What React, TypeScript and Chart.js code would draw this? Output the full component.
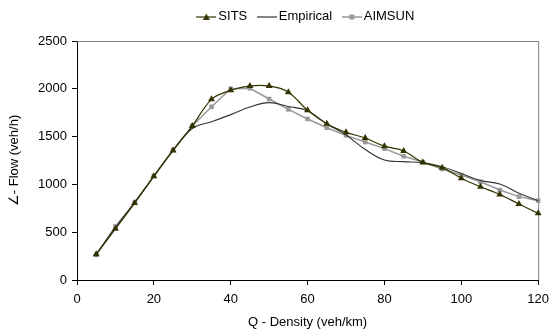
import React, { useEffect, useRef } from "react";
import { Chart, registerables } from "chart.js";

Chart.register(...registerables);

const densities = [5, 10, 15, 20, 25, 30, 35, 40, 45, 50, 55, 60, 65, 70, 75, 80, 85, 90, 95, 100, 105, 110, 115, 120];
const sitsFlow = [270, 535, 805, 1085, 1355, 1610, 1890, 1985, 2030, 2030, 1965, 1775, 1635, 1545, 1485, 1400, 1350, 1230, 1175, 1065, 975, 895, 795, 697];
const empiricalFlow = [270, 550, 810, 1085, 1355, 1585, 1655, 1730, 1810, 1855, 1815, 1770, 1632, 1517, 1365, 1255, 1238, 1227, 1185, 1115, 1040, 1004, 907, 830];
const aimsunFlow = [262, 560, 810, 1088, 1360, 1611, 1812, 2000, 2005, 1893, 1785, 1684, 1593, 1513, 1443, 1374, 1294, 1234, 1161, 1098, 1028, 941, 872, 830];

const xTickValues = [0, 20, 40, 60, 80, 100, 120];
const yTickValues = [0, 500, 1000, 1500, 2000, 2500];

const seriesNames = ["SITS", "Empirical", "AIMSUN"];
const xTitle = "Q - Density (veh/km)";
const yTitle = "\u2220- Flow (veh/h)";

const FONT = "'Liberation Sans', Arial, sans-serif";
const FS = 13;
const SITS_COLOR = "#333300";
const EMP_COLOR = "#333333";
const AIM_COLOR = "#999999";

function makeIcon(color: string, marker: "triangle" | "square" | "none", markerColor: string, lw: number) {
  const c = document.createElement("canvas");
  c.width = 20;
  c.height = 9;
  const ctx = c.getContext("2d")!;
  ctx.strokeStyle = color;
  ctx.lineWidth = lw;
  ctx.beginPath();
  ctx.moveTo(0, 5);
  ctx.lineTo(20, 5);
  ctx.stroke();
  ctx.fillStyle = markerColor;
  if (marker === "triangle") {
    ctx.beginPath();
    ctx.moveTo(10, 1.5);
    ctx.lineTo(13.5, 8);
    ctx.lineTo(6.5, 8);
    ctx.closePath();
    ctx.fill();
  } else if (marker === "square") {
    ctx.fillRect(7.5, 2.5, 5, 5);
  }
  return c;
}

export default function App() {
  const ref = useRef<HTMLCanvasElement | null>(null);

  useEffect(() => {
    if (!ref.current) return;
    const icons = [
      makeIcon(SITS_COLOR, "triangle", SITS_COLOR, 1.2),
      makeIcon(EMP_COLOR, "none", EMP_COLOR, 1.2),
      makeIcon(AIM_COLOR, "square", AIM_COLOR, 1.5),
    ];

    const borderPlugin = {
      id: "plotBorder",
      beforeDatasetsDraw(chart: any) {
        const { left, top, right, bottom } = chart.chartArea;
        const ctx = chart.ctx;
        ctx.save();
        ctx.strokeStyle = "#808080";
        ctx.lineWidth = 1;
        ctx.beginPath();
        ctx.moveTo(left, top + 0.5);
        ctx.lineTo(right + 0.5, top + 0.5);
        ctx.lineTo(right + 0.5, bottom);
        ctx.stroke();
        ctx.restore();
      },
    };

    const legendHeightPlugin = {
      id: "legendHeight",
      beforeInit(chart: any) {
        const origFit = chart.legend.fit;
        chart.legend.fit = function () {
          origFit.bind(chart.legend)();
          this.height = 45;
        };
      },
      afterLayout(chart: any) {
        if (chart.legend && chart.chartArea) {
          chart.legend.left = chart.chartArea.left;
          chart.legend.right = chart.chartArea.right;
        }
      },
    };

    const toPts = (arr: number[]) => densities.map((x, i) => ({ x, y: arr[i] }));

    const chart = new Chart(ref.current, {
      type: "line",
      data: {
        datasets: [
          {
            label: seriesNames[0],
            data: toPts(sitsFlow),
            borderColor: SITS_COLOR,
            backgroundColor: SITS_COLOR,
            borderWidth: 1.2,
            pointStyle: "triangle",
            pointRadius: 4,
            pointBorderWidth: 0,
            tension: 0.35,
            clip: false,
          },
          {
            label: seriesNames[1],
            data: toPts(empiricalFlow),
            borderColor: EMP_COLOR,
            backgroundColor: EMP_COLOR,
            borderWidth: 1.1,
            pointRadius: 0,
            tension: 0.4,
            clip: false,
          },
          {
            label: seriesNames[2],
            data: toPts(aimsunFlow),
            borderColor: AIM_COLOR,
            backgroundColor: AIM_COLOR,
            borderWidth: 1.5,
            pointStyle: "rect",
            pointRadius: 3.2,
            pointBorderWidth: 0,
            tension: 0,
            clip: false,
          },
        ] as any,
      },
      options: {
        animation: false,
        responsive: false,
        maintainAspectRatio: false,
        layout: { padding: { top: -4, left: 7, right: 17, bottom: 0 } },
        plugins: {
          tooltip: { enabled: false },
          legend: {
            position: "top",
            align: "center",
            labels: {
              usePointStyle: true,
              pointStyleWidth: 11,
              padding: 14,
              color: "#000",
              font: { family: FONT, size: FS },
              generateLabels: () =>
                seriesNames.map((name, i) => ({
                  text: name,
                  pointStyle: icons[i],
                  fillStyle: "transparent",
                  strokeStyle: "transparent",
                  lineWidth: 0,
                  hidden: false,
                  datasetIndex: i,
                  fontColor: "#000",
                })) as any,
            },
          },
        },
        scales: {
          x: {
            type: "linear",
            min: 0,
            max: 120,
            afterBuildTicks(scale: any) {
              scale.ticks = xTickValues.map((v) => ({ value: v }));
            },
            afterFit(scale: any) {
              scale.height = 51;
            },
            grid: {
              drawOnChartArea: false,
              drawTicks: true,
              tickLength: 5,
              color: "#000",
            },
            border: { color: "#000", width: 1 },
            ticks: {
              color: "#000",
              padding: 7,
              maxRotation: 0,
              font: { family: FONT, size: FS },
              callback: (v: any) => String(v),
            },
            title: {
              display: true,
              text: xTitle,
              color: "#000",
              font: { family: FONT, size: FS },
              padding: { top: 4, bottom: 1 },
            },
          },
          y: {
            type: "linear",
            min: 0,
            max: 2500,
            afterBuildTicks(scale: any) {
              scale.ticks = yTickValues.map((v) => ({ value: v }));
            },
            afterFit(scale: any) {
              scale.width = 70;
            },
            grid: {
              drawOnChartArea: false,
              drawTicks: true,
              tickLength: 5,
              color: "#000",
            },
            border: { color: "#000", width: 1 },
            ticks: {
              color: "#000",
              padding: 5,
              font: { family: FONT, size: FS },
              callback: (v: any) => String(v),
            },
            title: {
              display: true,
              text: yTitle,
              color: "#000",
              font: { family: FONT, size: FS },
              padding: { top: 0, bottom: 4 },
            },
          },
        },
      } as any,
      plugins: [borderPlugin, legendHeightPlugin],
    });

    return () => chart.destroy();
  }, []);

  return (
    <div style={{ position: "absolute", left: 0, top: 0, width: 556, height: 331, background: "#fff" }}>
      <canvas ref={ref} width={556} height={331} style={{ width: 556, height: 331, display: "block" }} />
    </div>
  );
}
